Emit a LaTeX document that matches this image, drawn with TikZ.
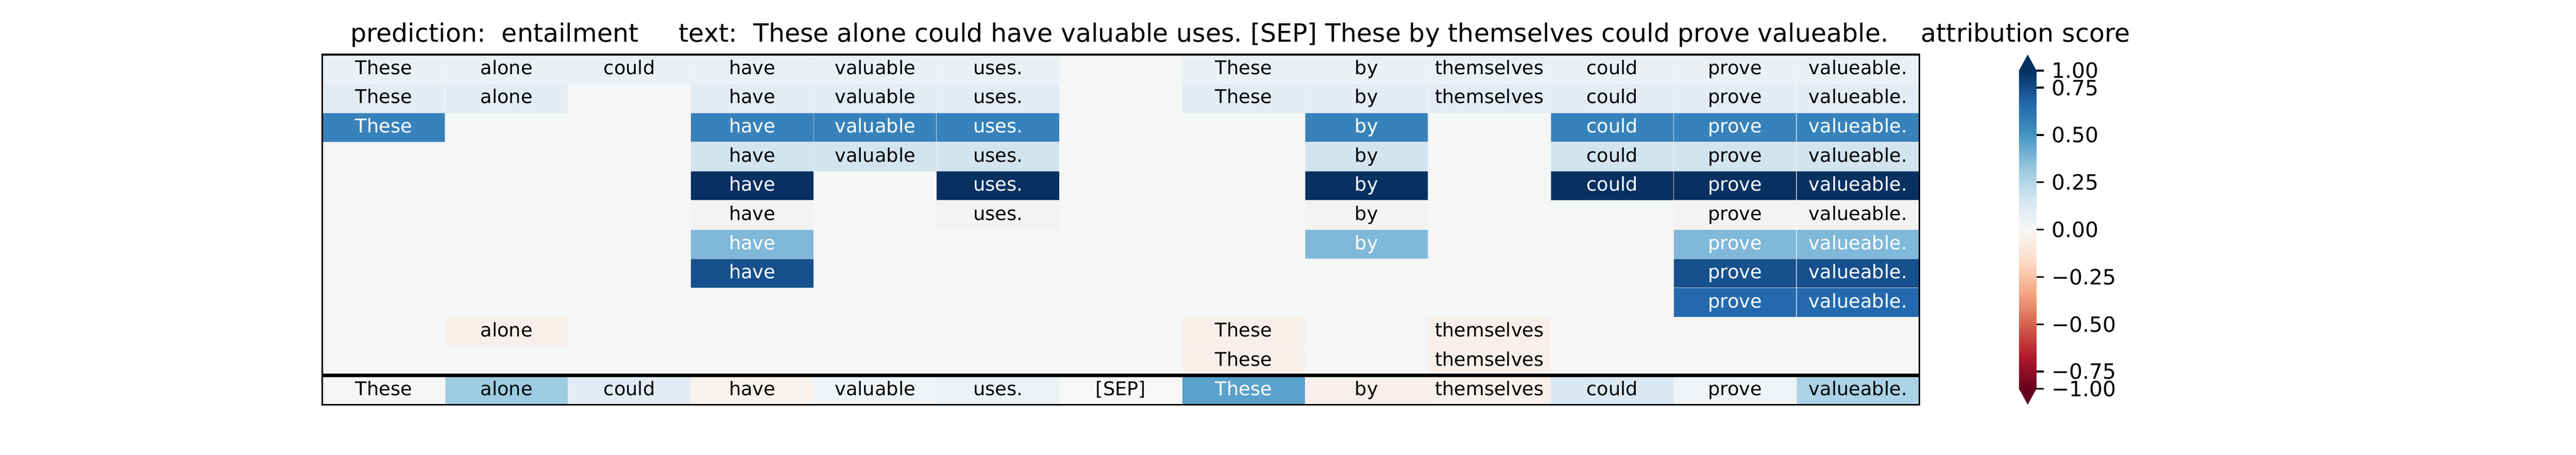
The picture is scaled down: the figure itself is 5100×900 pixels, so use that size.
\documentclass[tikz,border=0pt]{standalone}
\usepackage{fontspec}
\setmainfont{DejaVu Sans}
\frenchspacing
\definecolor{bgc}{RGB}{245,246,246}
\definecolor{ra}{RGB}{234,240,244}
\definecolor{rb}{RGB}{227,236,244}
\definecolor{rc}{RGB}{56,130,187}
\definecolor{rd}{RGB}{210,228,240}
\definecolor{re}{RGB}{8,48,97}
\definecolor{rf}{RGB}{245,243,241}
\definecolor{rg}{RGB}{127,184,216}
\definecolor{rh}{RGB}{22,80,141}
\definecolor{ri}{RGB}{36,105,173}
\definecolor{rj}{RGB}{248,239,235}
\definecolor{za}{RGB}{245,245,245}
\definecolor{zb}{RGB}{157,203,225}
\definecolor{zc}{RGB}{227,236,245}
\definecolor{zd}{RGB}{247,242,238}
\definecolor{ze}{RGB}{240,243,246}
\definecolor{zf}{RGB}{236,241,245}
\definecolor{zg}{RGB}{246,247,247}
\definecolor{zh}{RGB}{90,161,204}
\definecolor{zi}{RGB}{248,239,236}
\definecolor{zj}{RGB}{248,240,236}
\definecolor{zk}{RGB}{217,232,242}
\definecolor{zl}{RGB}{240,244,246}
\definecolor{zm}{RGB}{171,210,230}
\definecolor{cb0}{RGB}{103,0,31}
\definecolor{cb1}{RGB}{178,24,43}
\definecolor{cb2}{RGB}{214,96,77}
\definecolor{cb3}{RGB}{244,165,130}
\definecolor{cb4}{RGB}{253,219,199}
\definecolor{cb5}{RGB}{247,247,247}
\definecolor{cb6}{RGB}{209,229,240}
\definecolor{cb7}{RGB}{146,197,222}
\definecolor{cb8}{RGB}{67,147,195}
\definecolor{cb9}{RGB}{33,102,172}
\definecolor{cb10}{RGB}{5,48,97}
\tikzset{
  celltext/.style={anchor=base, inner sep=0pt, font=\fontsize{9}{10.8}\selectfont},
  seam/.style={draw=bgc, line width=0.3pt, opacity=0.55},
  spine/.style={line width=0.8pt, black},
  sepline/.style={line width=1.6pt, black},
  ticklab/.style={anchor=base west, inner sep=0pt, font=\fontsize{10}{12}\selectfont},
  tickmark/.style={line width=0.8pt, black},
  titletext/.style={anchor=base west, inner sep=0pt, font=\fontsize{12}{14.4}\selectfont},
}
\newcommand\hmcell[5]{%
  \pgfmathsetmacro\hmx{638+(#2-1)*243.2308}%
  \pgfmathsetmacro\hmy{108+(#1-1)*57.75}%
  \fill[#3] (\hmx,\hmy) rectangle ++(243.2308,57.75);%
  \draw[seam] (\hmx,\hmy) rectangle ++(243.2308,57.75);%
  \node[celltext,text=#4] (cell-#1-#2) at ({\hmx+121.6154},{\hmy+39.2}) {#5};%
}
\begin{document}
\begin{tikzpicture}[x=0.24pt,y=-0.24pt]
\fill[white] (0,0) rectangle (5100,900);
\useasboundingbox (0,0) rectangle (5100,900);
% title
\node[titletext] (title) at (693,83) {prediction:~~entailment~~~~~text:~~These alone could have valuable uses. [SEP] These by themselves could prove valueable.~~~~attribution score};
% background of the table
\fill[bgc] (638,108) rectangle (3800,801);
% row 1
\hmcell{1}{1}{ra}{black}{These}
\hmcell{1}{2}{ra}{black}{alone}
\hmcell{1}{3}{ra}{black}{could}
\hmcell{1}{4}{ra}{black}{have}
\hmcell{1}{5}{ra}{black}{valuable}
\hmcell{1}{6}{ra}{black}{uses.}
\hmcell{1}{8}{ra}{black}{These}
\hmcell{1}{9}{ra}{black}{by}
\hmcell{1}{10}{ra}{black}{themselves}
\hmcell{1}{11}{ra}{black}{could}
\hmcell{1}{12}{ra}{black}{prove}
\hmcell{1}{13}{ra}{black}{valueable.}
% row 2
\hmcell{2}{1}{rb}{black}{These}
\hmcell{2}{2}{rb}{black}{alone}
\hmcell{2}{4}{rb}{black}{have}
\hmcell{2}{5}{rb}{black}{valuable}
\hmcell{2}{6}{rb}{black}{uses.}
\hmcell{2}{8}{rb}{black}{These}
\hmcell{2}{9}{rb}{black}{by}
\hmcell{2}{10}{rb}{black}{themselves}
\hmcell{2}{11}{rb}{black}{could}
\hmcell{2}{12}{rb}{black}{prove}
\hmcell{2}{13}{rb}{black}{valueable.}
% row 3
\hmcell{3}{1}{rc}{white}{These}
\hmcell{3}{4}{rc}{white}{have}
\hmcell{3}{5}{rc}{white}{valuable}
\hmcell{3}{6}{rc}{white}{uses.}
\hmcell{3}{9}{rc}{white}{by}
\hmcell{3}{11}{rc}{white}{could}
\hmcell{3}{12}{rc}{white}{prove}
\hmcell{3}{13}{rc}{white}{valueable.}
% row 4
\hmcell{4}{4}{rd}{black}{have}
\hmcell{4}{5}{rd}{black}{valuable}
\hmcell{4}{6}{rd}{black}{uses.}
\hmcell{4}{9}{rd}{black}{by}
\hmcell{4}{11}{rd}{black}{could}
\hmcell{4}{12}{rd}{black}{prove}
\hmcell{4}{13}{rd}{black}{valueable.}
% row 5
\hmcell{5}{4}{re}{white}{have}
\hmcell{5}{6}{re}{white}{uses.}
\hmcell{5}{9}{re}{white}{by}
\hmcell{5}{11}{re}{white}{could}
\hmcell{5}{12}{re}{white}{prove}
\hmcell{5}{13}{re}{white}{valueable.}
% row 6
\hmcell{6}{4}{rf}{black}{have}
\hmcell{6}{6}{rf}{black}{uses.}
\hmcell{6}{9}{rf}{black}{by}
\hmcell{6}{12}{rf}{black}{prove}
\hmcell{6}{13}{rf}{black}{valueable.}
% row 7
\hmcell{7}{4}{rg}{white}{have}
\hmcell{7}{9}{rg}{white}{by}
\hmcell{7}{12}{rg}{white}{prove}
\hmcell{7}{13}{rg}{white}{valueable.}
% row 8
\hmcell{8}{4}{rh}{white}{have}
\hmcell{8}{12}{rh}{white}{prove}
\hmcell{8}{13}{rh}{white}{valueable.}
% row 9
\hmcell{9}{12}{ri}{white}{prove}
\hmcell{9}{13}{ri}{white}{valueable.}
% row 10
\hmcell{10}{2}{rj}{black}{alone}
\hmcell{10}{8}{rj}{black}{These}
\hmcell{10}{10}{rj}{black}{themselves}
% row 11
\hmcell{11}{8}{rj}{black}{These}
\hmcell{11}{10}{rj}{black}{themselves}
% row 12 (input tokens)
\hmcell{12}{1}{za}{black}{These}
\hmcell{12}{2}{zb}{black}{alone}
\hmcell{12}{3}{zc}{black}{could}
\hmcell{12}{4}{zd}{black}{have}
\hmcell{12}{5}{ze}{black}{valuable}
\hmcell{12}{6}{zf}{black}{uses.}
\hmcell{12}{7}{zg}{black}{[SEP]}
\hmcell{12}{8}{zh}{white}{These}
\hmcell{12}{9}{zi}{black}{by}
\hmcell{12}{10}{zj}{black}{themselves}
\hmcell{12}{11}{zk}{black}{could}
\hmcell{12}{12}{zl}{black}{prove}
\hmcell{12}{13}{zm}{black}{valueable.}
% frame and separator
\draw[sepline] (638,743.25) -- (3800,743.25);
\draw[spine] (638,108) rectangle (3800,801);
% colorbar
\foreach \i in {0,...,9} {
  \pgfmathtruncatemacro\j{\i+1}
  \pgfmathsetmacro\yb{769.5-63*\i+0.6}
  \pgfmathsetmacro\yt{769.5-63*\j-0.6}
  \shade[bottom color=cb\i, top color=cb\j] (3997.3,\yt) rectangle (4031.7,\yb);
}
\fill[cb10] (3997.3,140.3) -- (3997.3,139.5) -- (4014.5,108) -- (4031.7,139.5) -- (4031.7,140.3) -- cycle;
\fill[cb0] (3997.3,768.7) -- (3997.3,769.5) -- (4014.5,801) -- (4031.7,769.5) -- (4031.7,768.7) -- cycle;
% ticks and labels
\foreach \ty/\tl/\nm in {139.8/1.00/a, 173.5/0.75/b, 267.2/0.50/c, 360.9/0.25/d, 454.5/0.00/e, 548.1/−0.25/f, 641.8/−0.50/g, 735.5/−0.75/h, 769.3/−1.00/k} {
  \draw[tickmark] (4031.7,\ty) -- (4046.3,\ty);
  \node[ticklab] (tick-\nm) at (4061,\ty+15.2) {\tl};
}
\end{tikzpicture}
\end{document}
